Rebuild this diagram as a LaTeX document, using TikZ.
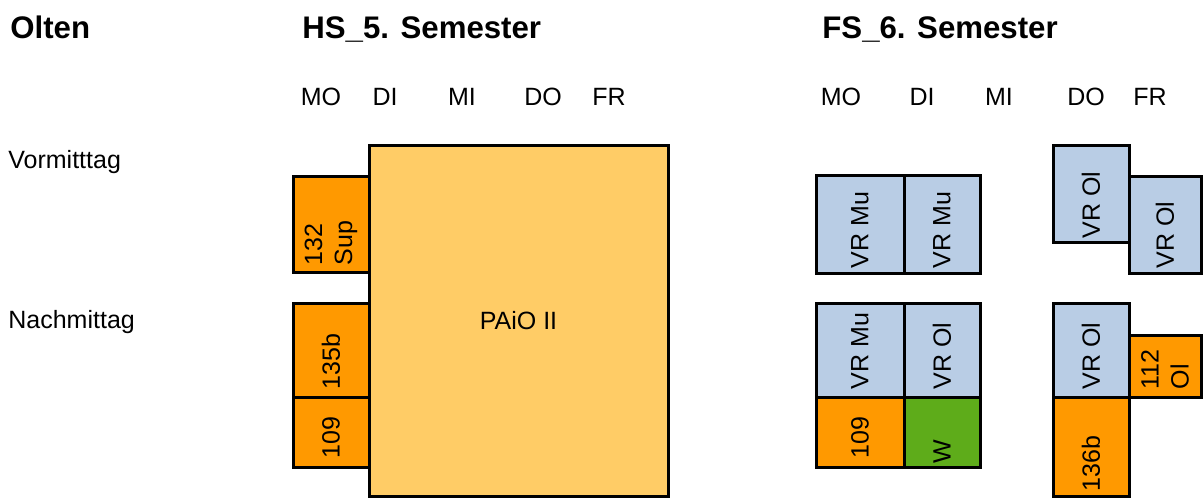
\documentclass[tikz,border=0pt]{standalone}
\usepackage{fontspec}
\setmainfont{Liberation Sans}
\definecolor{orng}{RGB}{255,153,0}
\definecolor{paiocol}{RGB}{255,204,102}
\definecolor{vrblue}{RGB}{185,205,229}
\definecolor{wgreen}{RGB}{94,172,26}
\tikzset{%
  slot/.style  = {shape=rectangle, draw, line width=1.5pt, inner sep=0pt},%
  room/.style  = {slot, fill=orng},%
  vr/.style    = {slot, fill=vrblue},%
  title/.style = {anchor=base west, inner sep=0pt, font=\fontsize{15.6}{18}\selectfont\bfseries},%
  day/.style   = {anchor=base, inner sep=0pt, font=\fontsize{12.5}{15}\selectfont},%
  lbl/.style   = {rotate=90, anchor=west, inner sep=0pt, align=left,%
                  font=\fontsize{12.5}{15}\selectfont}%
}
\begin{document}
\begin{tikzpicture}[x=0.5pt,y=-0.5pt]
		\useasboundingbox (0,0) rectangle (1203,498);
		\node[title] (olten) at (10,39) {Olten};
		\node[title] (hs) at (302,39) {HS\_5. Semester};
		\node[title] (fs) at (822,39) {FS\_6. Semester};
		\node[day] (hsmo) at (321,105) {MO};
		\node[day] (hsdi) at (385,105) {DI};
		\node[day] (hsmi) at (462,105) {MI};
		\node[day] (hsdo) at (543,105) {DO};
		\node[day] (hsfr) at (609,105) {FR};
		\node[day] (fsmo) at (841,105) {MO};
		\node[day] (fsdi) at (922,105) {DI};
		\node[day] (fsmi) at (999,105) {MI};
		\node[day] (fsdo) at (1086,105) {DO};
		\node[day] (fsfr) at (1150,105) {FR};
		\node[day, anchor=base west] (vorm) at (8,168) {Vormitttag};
		\node[day, anchor=base west] (nachm) at (8,328) {Nachmittag};
		\node[room, minimum width=38pt, minimum height=48pt] (sup) at (331,224) {};
		\node[room, minimum width=38pt, minimum height=47pt] (hsb) at (331,350) {};
		\node[room, minimum width=38pt, minimum height=35pt] (hsc) at (331,432) {};
		\node[slot, fill=paiocol, minimum width=149.5pt, minimum height=175.5pt,
		      font=\fontsize{12.5}{15}\selectfont] (paio) at (518.5,320.5) {PAiO II};
		\node[lbl] at ([yshift=4pt]sup.south) {132\\Sup};
		\node[lbl] at ([yshift=4.5pt]hsb.south) {135b};
		\node[lbl] at ([yshift=5pt]hsc.south) {109};
		\node[vr, minimum width=44pt, minimum height=49pt] (mua) at (860,224) {};
		\node[vr, minimum width=38pt, minimum height=49pt] (mub) at (942,224) {};
		\node[vr, minimum width=38pt, minimum height=48.5pt] (ola) at (1091,193.5) {};
		\node[vr, minimum width=36pt, minimum height=48.5pt] (olb) at (1165,224.5) {};
		\node[vr, minimum width=44pt, minimum height=47pt] (muc) at (860,350) {};
		\node[vr, minimum width=38pt, minimum height=47pt] (olc) at (942,350) {};
		\node[room, minimum width=44pt, minimum height=35pt] (fsa) at (860,432) {};
		\node[slot, fill=wgreen, minimum width=38pt, minimum height=35pt] (wbox) at (942,432) {};
		\node[vr, minimum width=38pt, minimum height=47pt] (old) at (1091,350) {};
		\node[room, minimum width=38pt, minimum height=49.5pt] (fsb) at (1091,446.5) {};
		\node[room, minimum width=36pt, minimum height=31pt] (fsc) at (1165,366) {};
		\node[lbl] at ([yshift=3pt]mua.south) {VR Mu};
		\node[lbl] at ([yshift=3pt]mub.south) {VR Mu};
		\node[lbl] at ([yshift=2.5pt]ola.south) {VR Ol};
		\node[lbl] at ([yshift=3pt]olb.south) {VR Ol};
		\node[lbl] at ([yshift=4.5pt]muc.south) {VR Mu};
		\node[lbl] at ([yshift=4.5pt]olc.south) {VR Ol};
		\node[lbl] at ([yshift=5pt]fsa.south) {109};
		\node[lbl] at ([yshift=2.5pt]wbox.south) {W};
		\node[lbl] at ([yshift=4.5pt]old.south) {VR Ol};
		\node[lbl] at ([yshift=3pt]fsb.south) {136b};
		\node[lbl] at ([yshift=4.5pt]fsc.south) {112\\Ol};
	\end{tikzpicture}
\end{document}
